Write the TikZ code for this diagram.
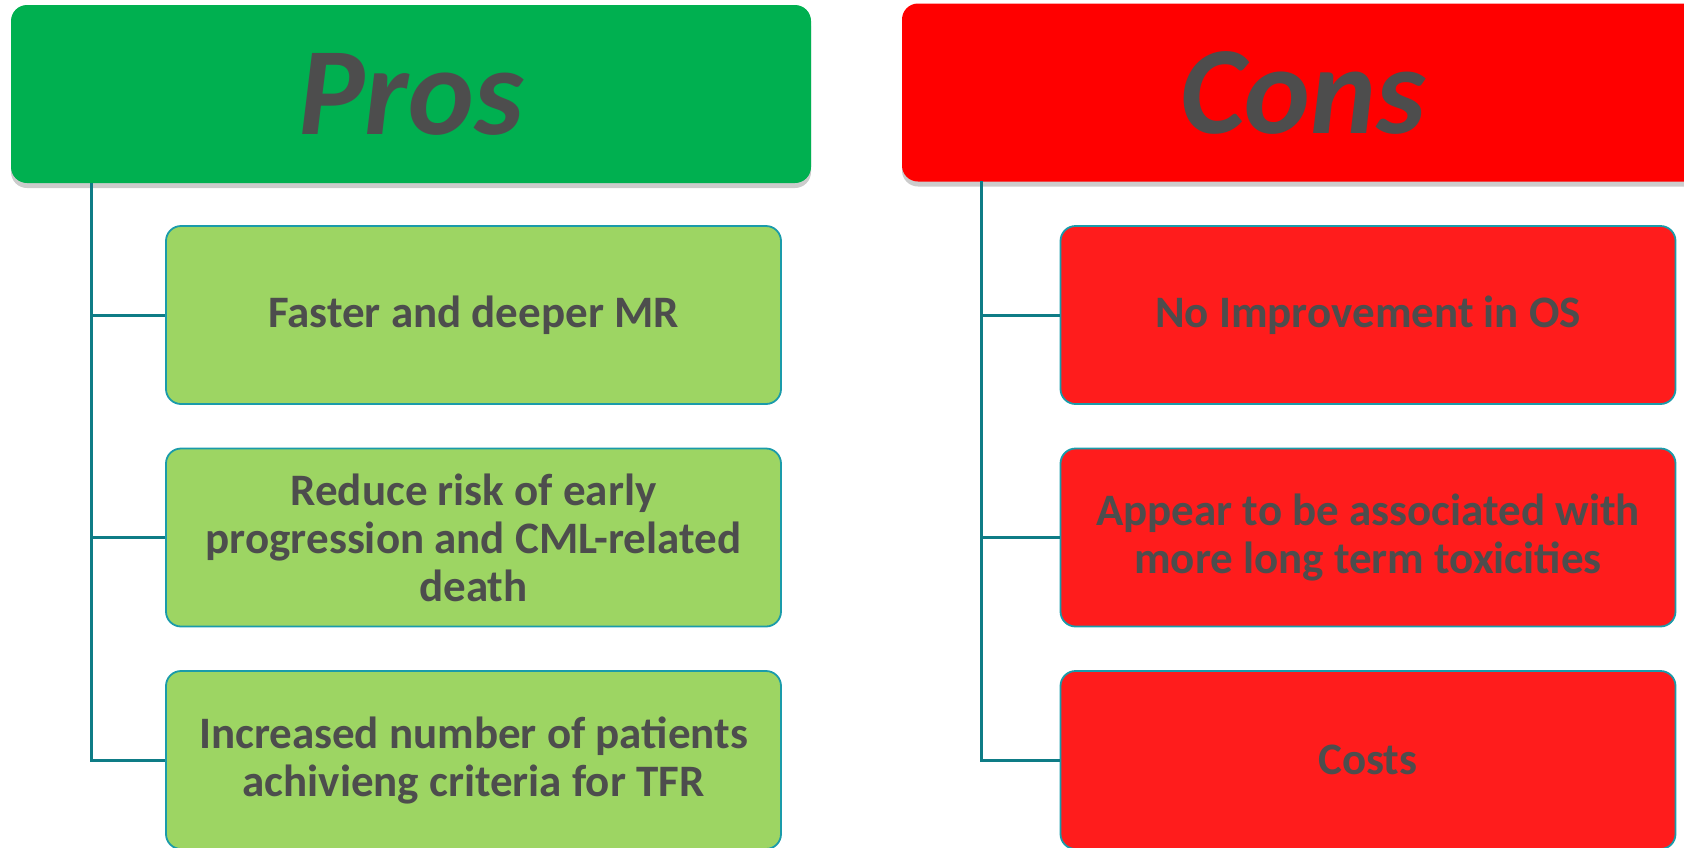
\documentclass[tikz,border=0pt]{standalone}
\usepackage{fontspec}
\setmainfont{Carlito}
\usetikzlibrary{shadows}
\definecolor{prosgreen}{HTML}{00B050}
\definecolor{proslight}{HTML}{9DD563}
\definecolor{consred}{HTML}{FF0000}
\definecolor{conslight}{HTML}{FF1C1C}
\definecolor{teal}{HTML}{0E7C86}
\definecolor{tealedge}{HTML}{1A9BAA}
\definecolor{txtgray}{HTML}{4D4D4D}

\begin{document}
\begin{tikzpicture}[x=1pt,y=-1pt]
\tikzstyle{header} = [shape=rectangle,rounded corners=16pt,minimum height=178pt,text=txtgray,font=\fontsize{125}{130}\selectfont\bfseries\itshape,drop shadow={shadow xshift=0pt,shadow yshift=-5pt,opacity=.4}]
\tikzstyle{item} = [shape=rectangle,rounded corners=15pt,draw=tealedge,line width=1.8pt,minimum width=615pt,minimum height=178pt,align=center,text=txtgray,font=\fontsize{45}{48}\selectfont\bfseries,node distance=222.5pt]
\tikzstyle{link} = [draw=teal,line width=3pt]

\useasboundingbox (0,0) rectangle (1684,847);
\clip (0,0) rectangle (1684,847);

\node[header,fill=prosgreen,minimum width=800pt] (pros) at (411,94) {Pros};
\node[header,fill=consred,minimum width=802pt] (cons) at (1303,92.5) {Cons};

\node[item,fill=proslight] (p1) at (473.5,315) {Faster and deeper MR};
\node[item,fill=proslight,below of=p1] (p2) {Reduce risk of early\\progression and CML-related\\death};
\node[item,fill=proslight,below of=p2] (p3) {Increased number of patients\\achivieng criteria for TFR};

\node[item,fill=conslight] (c1) at (1368,315) {No Improvement in OS};
\node[item,fill=conslight,below of=c1] (c2) {Appear to be associated with\\more long term toxicities};
\node[item,fill=conslight,below of=c2] (c3) {Costs};

\coordinate (ptop) at (91,183);
\coordinate (ctop) at (981,181);

\draw[link] (ptop) |- (p1.west);
\draw[link] (ptop) |- (p2.west);
\draw[link] (ptop) |- (p3.west);
\draw[link] (ctop) |- (c1.west);
\draw[link] (ctop) |- (c2.west);
\draw[link] (ctop) |- (c3.west);

\end{tikzpicture}
\end{document}
